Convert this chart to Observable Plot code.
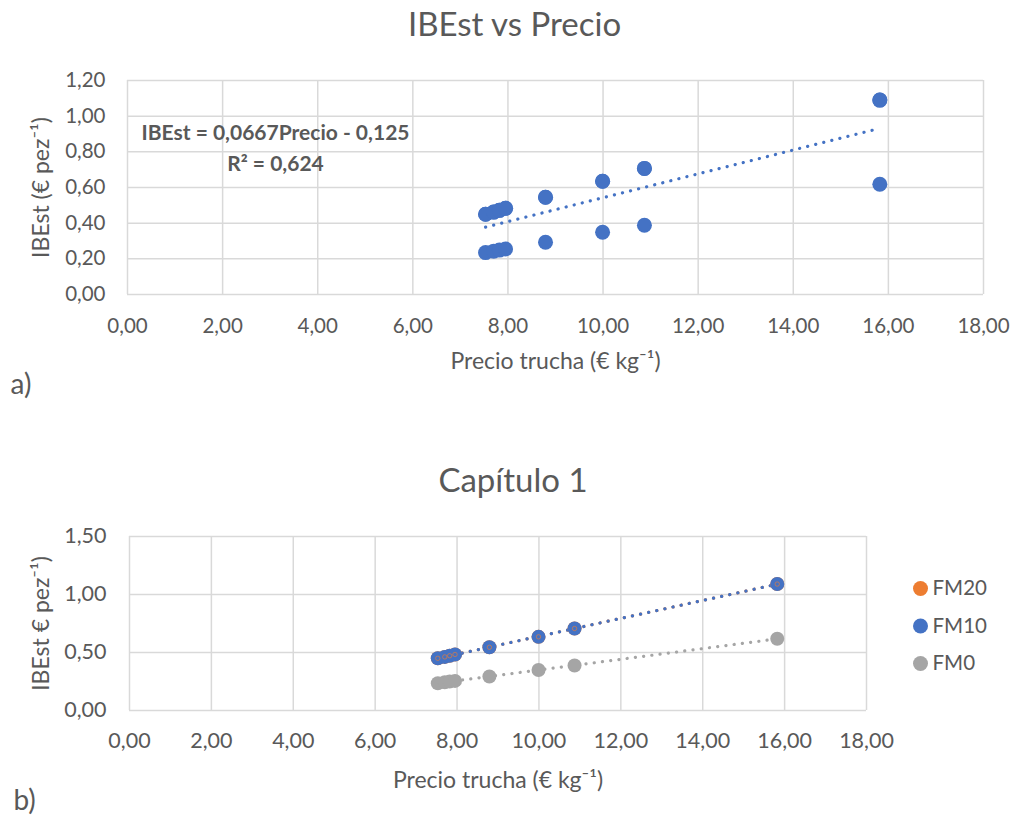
<!DOCTYPE html>
<html>
<head>
<meta charset="utf-8">
<script src="https://cdn.jsdelivr.net/npm/d3@7"></script>
<script src="https://cdn.jsdelivr.net/npm/@observablehq/plot@0.6"></script>
<style>
  html, body { margin: 0; padding: 0; background: #fff; }
  #wrap { width: 1015px; }
  svg { display: block; }
</style>
</head>
<body>
<div id="wrap"></div>
<script>
// ---- Data ----
const precio = [7.53, 7.70, 7.82, 7.95, 8.79, 9.99, 10.87, 15.82];
const fm20   = [0.450, 0.462, 0.472, 0.483, 0.545, 0.635, 0.707, 1.090];
const fm10   = [0.450, 0.462, 0.472, 0.483, 0.545, 0.635, 0.707, 1.090];
const fm0    = [0.235, 0.243, 0.249, 0.255, 0.293, 0.349, 0.388, 0.618];
const seriesNames = ["FM20", "FM10", "FM0"];
const seriesColors = ["#ED7D31", "#4472C4", "#A5A5A5"];
const xTicks = [0, 2, 4, 6, 8, 10, 12, 14, 16, 18];
const yTicksA = [0, 0.2, 0.4, 0.6, 0.8, 1.0, 1.2];
const yTicksB = [0, 0.5, 1.0, 1.5];
const titleA = "IBEst vs Precio";
const titleB = "Capítulo 1";
const xLabel = "Precio trucha (€ kg⁻¹)";
const yLabelA = "IBEst (€ pez⁻¹)";
const yLabelB = "IBEst € pez⁻¹)";
const eqLine1 = "IBEst = 0,0667Precio - 0,125";
const eqLine2 = "R² = 0,624";

// ---- Build tables ----
const seriesValues = {FM20: fm20, FM10: fm10, FM0: fm0};
const rows = seriesNames.flatMap(s => precio.map((p, i) => ({serie: s, precio: p, ibest: seriesValues[s][i]})));
const rowsBy = s => rows.filter(r => r.serie === s);

const textColor = "#595959";
const gridColor = "#d9d9d9";
const fmt = d => d3.format(".2f")(d).replace(".", ",");
const dotted = {strokeWidth: 3.2, strokeDasharray: "0.1 8.2", strokeLinecap: "round"};
const font = "Lato, 'Open Sans', sans-serif";
const T = {text: d => d, fill: textColor, lineAnchor: "middle"};

// ---- Chart a ----
const chartA = Plot.plot({
  width: 1015, height: 410,
  marginTop: 80, marginBottom: 116, marginLeft: 127, marginRight: 32,
  style: {fontFamily: font, color: textColor, background: "#fff"},
  x: {domain: [0, 18]},
  y: {domain: [0, 1.2]},
  marks: [
    Plot.ruleX(xTicks, {stroke: gridColor, strokeWidth: 1.5}),
    Plot.ruleY(yTicksA, {stroke: gridColor, strokeWidth: 1.5}),
    Plot.axisX({ticks: xTicks, tickSize: 0, tickPadding: 24, tickFormat: fmt, fontSize: 20.5, color: textColor, label: null}),
    Plot.axisY({ticks: yTicksA, tickSize: 0, tickPadding: 22, tickFormat: fmt, fontSize: 20.5, color: textColor, label: null}),
    Plot.linearRegressionY(rows, {x: "precio", y: "ibest", ci: 0, stroke: "#4472C4", ...dotted}),
    Plot.dot(rows, {x: "precio", y: "ibest", r: 7.5, fill: "#4472C4"}),
    Plot.text([titleA], {...T, frameAnchor: "top", dx: -41, dy: -55, fontSize: 33}),
    Plot.text([xLabel], {...T, frameAnchor: "bottom", dy: 67, fontSize: 23}),
    Plot.text([yLabelA], {...T, frameAnchor: "left", textAnchor: "middle", dx: -86, rotate: -90, fontSize: 23}),
    Plot.text(["a)"], {...T, frameAnchor: "bottom-left", dx: -117, dy: 91, textAnchor: "start", fontSize: 28}),
    Plot.text([eqLine1], {...T, frameAnchor: "top-left", textAnchor: "middle", dx: 148, dy: 53, fontSize: 21, fontWeight: "bold"}),
    Plot.text([eqLine2], {...T, frameAnchor: "top-left", textAnchor: "middle", dx: 148, dy: 84, fontSize: 21, fontWeight: "bold"})
  ]
});

// ---- Chart b ----
const colorOf = s => seriesColors[seriesNames.indexOf(s)];
const chartB = Plot.plot({
  width: 1015, height: 411,
  marginTop: 126, marginBottom: 111, marginLeft: 129, marginRight: 149,
  style: {fontFamily: font, color: textColor, background: "#fff"},
  x: {domain: [0, 18]},
  y: {domain: [0, 1.5]},
  marks: [
    Plot.ruleX(xTicks, {stroke: gridColor, strokeWidth: 1.5}),
    Plot.ruleY(yTicksB, {stroke: gridColor, strokeWidth: 1.5}),
    Plot.axisX({ticks: xTicks, tickSize: 0, tickPadding: 22, tickFormat: fmt, fontSize: 21.5, color: textColor, label: null}),
    Plot.axisY({ticks: yTicksB, tickSize: 0, tickPadding: 23, tickFormat: fmt, fontSize: 21.5, color: textColor, label: null}),
    ...["FM20", "FM0", "FM10"].map(s =>
      Plot.linearRegressionY(rowsBy(s), {x: "precio", y: "ibest", ci: 0, stroke: colorOf(s), ...dotted})),
    ...["FM0", "FM20", "FM10"].map(s =>
      Plot.dot(rowsBy(s), {x: "precio", y: "ibest", r: 7, fill: colorOf(s)})),
    Plot.dot(rowsBy("FM20"), {x: "precio", y: "ibest", r: 2.2, stroke: "#ED7D31", strokeWidth: 0.8, strokeOpacity: 0.8, fill: "none"}),
    Plot.text([titleB], {...T, frameAnchor: "top", dx: 15, dy: -55, fontSize: 33}),
    Plot.text([xLabel], {...T, frameAnchor: "bottom", dy: 70, fontSize: 23}),
    Plot.text([yLabelB], {...T, frameAnchor: "left", textAnchor: "middle", dx: -88, rotate: -90, fontSize: 23}),
    Plot.text(["b)"], {...T, frameAnchor: "bottom-left", dx: -116, dy: 91, textAnchor: "start", fontSize: 28}),
    ...seriesNames.map((s, i) =>
      Plot.dot([s], {frameAnchor: "top-right", dx: 54, dy: 52 + i * 37.5, r: 7.5, fill: seriesColors[i]})),
    ...seriesNames.map((s, i) =>
      Plot.text([s], {...T, frameAnchor: "top-right", dx: 66, dy: 52 + i * 37.5, textAnchor: "start", fontSize: 20.5}))
  ]
});

const wrap = document.getElementById("wrap");
wrap.appendChild(chartA);
wrap.appendChild(chartB);
</script>
</body>
</html>
